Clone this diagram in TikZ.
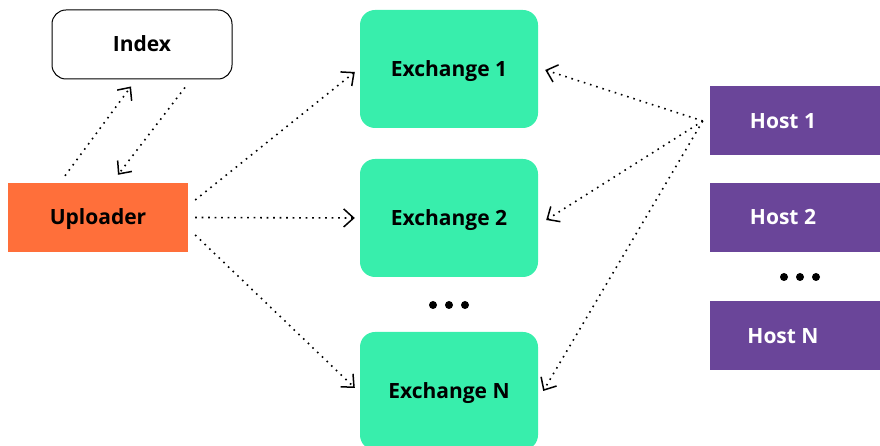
\documentclass[tikz,border=0pt]{standalone}
\usepackage{fontspec}
\setmainfont{Open Sans}
\usetikzlibrary{arrows.meta,calc}
\definecolor{upcolor}{HTML}{FF6F3A}
\definecolor{excolor}{HTML}{38EEAC}
\definecolor{hostcolor}{HTML}{6A4599}
\tikzset{
  box/.style={inner sep=0pt,text height=15pt,text depth=0pt,
    font=\fontsize{21}{25}\selectfont\bfseries},
  indexbox/.style={box,draw,line width=1pt,fill=white,rounded corners=14pt,
    minimum width=180pt,minimum height=69pt},
  upbox/.style={box,fill=upcolor,minimum width=180pt,minimum height=69pt},
  exbox/.style={box,fill=excolor,rounded corners=15pt,
    minimum width=178pt,minimum height=118pt},
  hostbox/.style={box,fill=hostcolor,text=white,
    minimum width=180pt,minimum height=69pt},
  flow/.style={line width=1.6pt,dash pattern=on 1.6pt off 4.9pt,
    -{Straight Barb[length=10pt,width=18pt,line width=1.5pt]}},
  more/.style={circle,fill=black,inner sep=0pt,minimum size=8pt},
}
\newcommand\hostlabel[1]{\makebox[146pt]{#1}\hspace*{34pt}}
\begin{document}
\begin{tikzpicture}[x=1pt,y=1pt]
    \useasboundingbox (0,0) rectangle (880,446);
    % boxes
    \node [indexbox] (index) at (142,401.5) {Index};
    \node [upbox] (up) at (98,228.5) {Uploader};
    \node [exbox] (ex1) at (449,377) {Exchange 1};
    \node [exbox] (ex2) at (449,228) {Exchange 2};
    \node [exbox] (exN) at (449,55) {Exchange N};
    \node [hostbox] (h1) at (800,325) {\hostlabel{Host 1}};
    \node [hostbox] (h2) at (800,228.5) {\hostlabel{Host 2}};
    \node [hostbox] (hN) at (800,110) {\hostlabel{Host N}};
    % dots
    \foreach \i in {-16,0,16} {
      \node [more] at (449+\i,141) {};
      \node [more] at (800+\i,169) {};
    }
    % connectors
    \coordinate (hub) at ([xshift=-7pt]h1.west);
    \draw [flow] ([shift={(-33pt,7pt)}]up.north) -- ([shift={(-11pt,-7pt)}]index.south);
    \draw [flow] ([shift={(43pt,-8pt)}]index.south) -- ([shift={(20pt,8pt)}]up.north);
    \draw [flow] ([shift={(7pt,17.5pt)}]up.east) -- ([shift={(-5pt,-3pt)}]ex1.west);
    \draw [flow] ([shift={(7pt,0pt)}]up.east) -- ([shift={(-5pt,0pt)}]ex2.west);
    \draw [flow] ([shift={(7pt,-17.5pt)}]up.east) -- ([shift={(-5pt,3pt)}]exN.west);
    \draw [flow] (hub) -- ([shift={(7pt,-1pt)}]ex1.east);
    \draw [flow] (hub) -- ([shift={(8pt,-2pt)}]ex2.east);
    \draw [flow] (hub) -- ([shift={(5pt,0pt)}]exN.east);
\end{tikzpicture}
\end{document}
